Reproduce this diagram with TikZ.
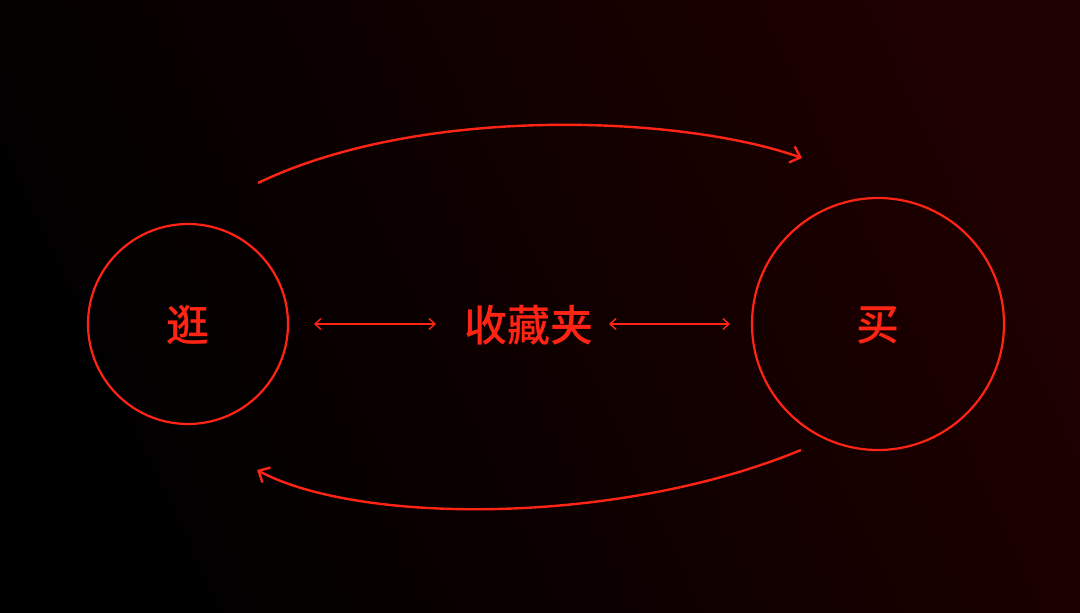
\documentclass[tikz,border=0pt]{standalone}
\usepackage{fontspec}
\newfontfamily\cjk{Noto Sans CJK SC Medium}
\usetikzlibrary{arrows.meta}
\definecolor{accent}{RGB}{255,36,20}
\definecolor{deepred}{RGB}{30,0,0}
\tikzset{
  ring/.style={circle,draw=accent,line width=2.2pt,inner sep=0pt},
  label/.style={text=accent,font=\cjk\fontsize{43}{43}\selectfont,inner sep=0pt},
  link/.style={draw=accent,line width=1.4pt,{Straight Barb[length=6pt,width=11pt]}-{Straight Barb[length=6pt,width=11pt]}},
  flow/.style={draw=accent,line width=2.4pt,-{Straight Barb[length=9pt,width=17pt]}}
}
\begin{document}
\begin{tikzpicture}[x=1pt,y=-1pt]
\shade[left color=black,right color=deepred,shading angle=115] (0,0) rectangle (1080,613);
\useasboundingbox (0,0) rectangle (1080,613);
\node[ring,minimum size=200pt] (l) at (188,324) {};
\node[ring,minimum size=252pt] (r) at (878,324) {};
\node[label] (lt) at (188,325) {逛};
\node[label] (rt) at (878,325) {买};
\node[label] (mid) at (529,325) {收藏夹};
\coordinate (a1) at (314,324);
\coordinate (a2) at (436,324);
\coordinate (b1) at (609,324);
\coordinate (b2) at (730,324);
\draw[link] (a1) -- (a2);
\draw[link] (b1) -- (b2);
\coordinate (t1) at (258,183);
\coordinate (t2) at (802,158);
\coordinate (u1) at (801,450);
\coordinate (u2) at (257,470);
\draw[flow] (t1) .. controls (420,105) and (680,115) .. (t2);
\draw[flow] (u1) .. controls (620,525) and (360,525) .. (u2);
\end{tikzpicture}
\end{document}
